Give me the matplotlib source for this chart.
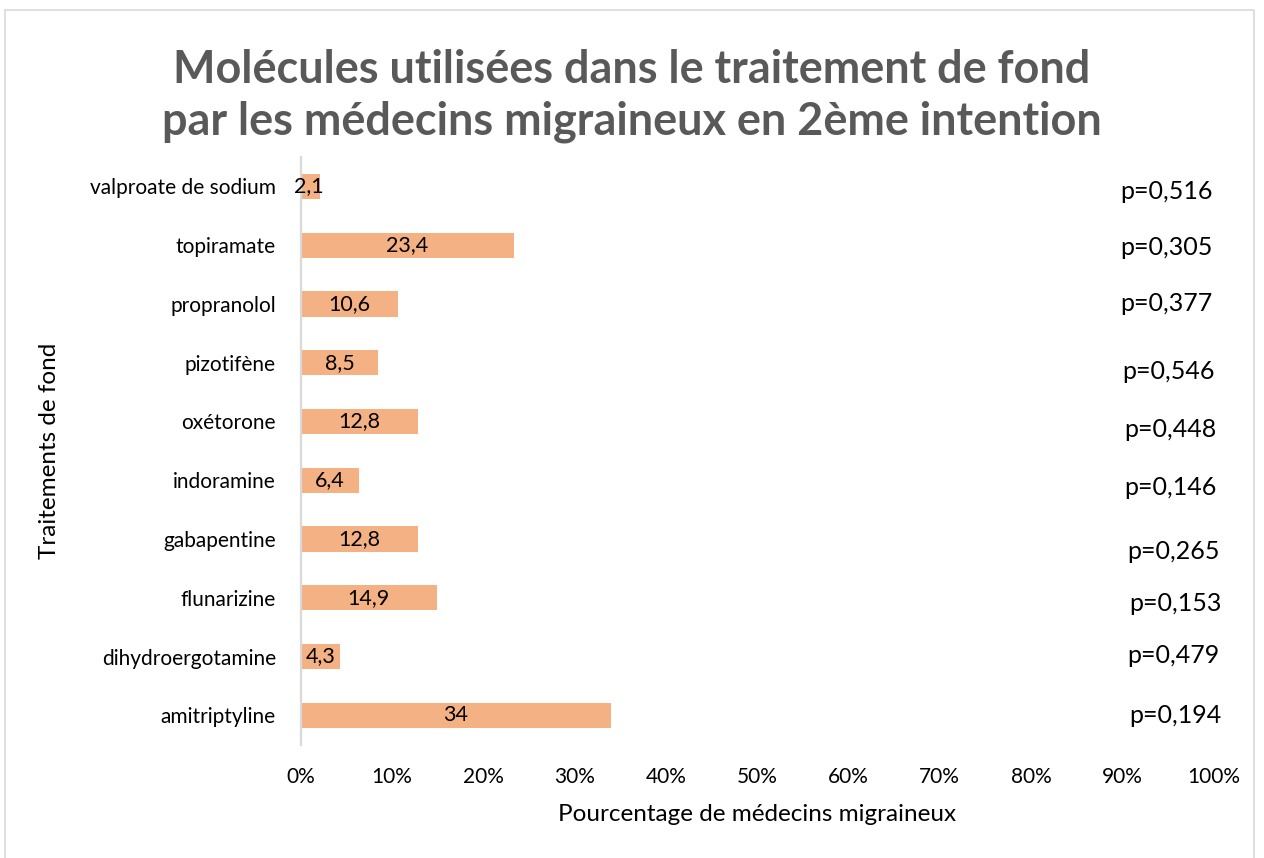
import matplotlib.pyplot as plt
from matplotlib.patches import Rectangle
from matplotlib.ticker import FuncFormatter

# ============================================================
# DATA
# ============================================================

molecules = [
    "amitriptyline",
    "dihydroergotamine",
    "flunarizine",
    "gabapentine",
    "indoramine",
    "oxétorone",
    "pizotifène",
    "propranolol",
    "topiramate",
    "valproate de sodium",
]

percentages = [34, 4.3, 14.9, 12.8, 6.4, 12.8, 8.5, 10.6, 23.4, 2.1]

p_values = ["0,194", "0,479", "0,153", "0,265", "0,146",
            "0,448", "0,546", "0,377", "0,305", "0,516"]

x_ticks = [0, 10, 20, 30, 40, 50, 60, 70, 80, 90, 100]

# ============================================================
# STYLE
# ============================================================

plt.rcParams["font.family"] = ["Lato", "DejaVu Sans"]

BAR_COLOR = "#F4B183"
TEXT_GRAY = "#595959"

# manual text-box nudges, like in the original (data units, downwards)
p_offsets = [0.0, -0.02, 0.1, 0.22, 0.12, 0.14, 0.15, 0.0, 0.034, 0.085]
p_x = [95.8, 95.6, 95.8, 95.6, 95.3, 95.3, 95.1, 94.8, 94.9, 94.9]

# ============================================================
# PLOT
# ============================================================

fig = plt.figure(figsize=(12.64, 8.58), dpi=100)
ax = fig.add_axes([0.238, 0.132, 0.722, 0.685])

positions = list(range(len(molecules)))

ax.barh(
    positions,
    percentages,
    height=0.43,
    color=BAR_COLOR,
    zorder=2
)

for pos, val in zip(positions, percentages):
    label = f"{val:g}".replace(".", ",")
    ax.text(
        val / 2 if val > 3 else 0.9,
        pos,
        label,
        ha="center",
        va="center",
        fontsize=15.5,
        color="black",
        zorder=3
    )

for pos, pv, off, px in zip(positions, p_values, p_offsets, p_x):
    ax.text(
        px,
        pos - off,
        f"p={pv}",
        ha="center",
        va="center",
        fontsize=18,
        color="black"
    )

ax.set_xlim(0, 100)
ax.set_ylim(-0.5, len(molecules) - 0.5)

ax.set_xticks(x_ticks)
ax.xaxis.set_major_formatter(FuncFormatter(lambda v, _: f"{v:.0f}%"))
ax.set_yticks(positions)
ax.set_yticklabels(molecules)

ax.tick_params(axis="both", length=0, labelsize=15, colors="black")
ax.tick_params(axis="x", pad=16)
ax.tick_params(axis="y", pad=18)

for side in ["top", "right", "bottom"]:
    ax.spines[side].set_visible(False)
ax.spines["left"].set_color("#D9D9D9")
ax.spines["left"].set_linewidth(1.6)

ax.set_xlabel("Pourcentage de médecins migraineux", fontsize=17.5, labelpad=12)
fig.text(0.039, 0.475, "Traitements de fond", rotation=90,
         ha="center", va="center", fontsize=17.5)

fig.text(
    0.5,
    0.833,
    "Molécules utilisées dans le traitement de fond\n"
    "par les médecins migraineux en 2ème intention",
    ha="center",
    va="bottom",
    fontsize=32.4,
    fontweight="bold",
    color=TEXT_GRAY,
    linespacing=1.3
)

fig.patches.append(
    Rectangle(
        (0.004, -0.01), 0.988, 0.998,
        transform=fig.transFigure,
        fill=False,
        edgecolor="#D9D9D9",
        linewidth=1.2
    )
)

# ============================================================
# SAVE
# ============================================================

fig.savefig("out.png", dpi=100)
